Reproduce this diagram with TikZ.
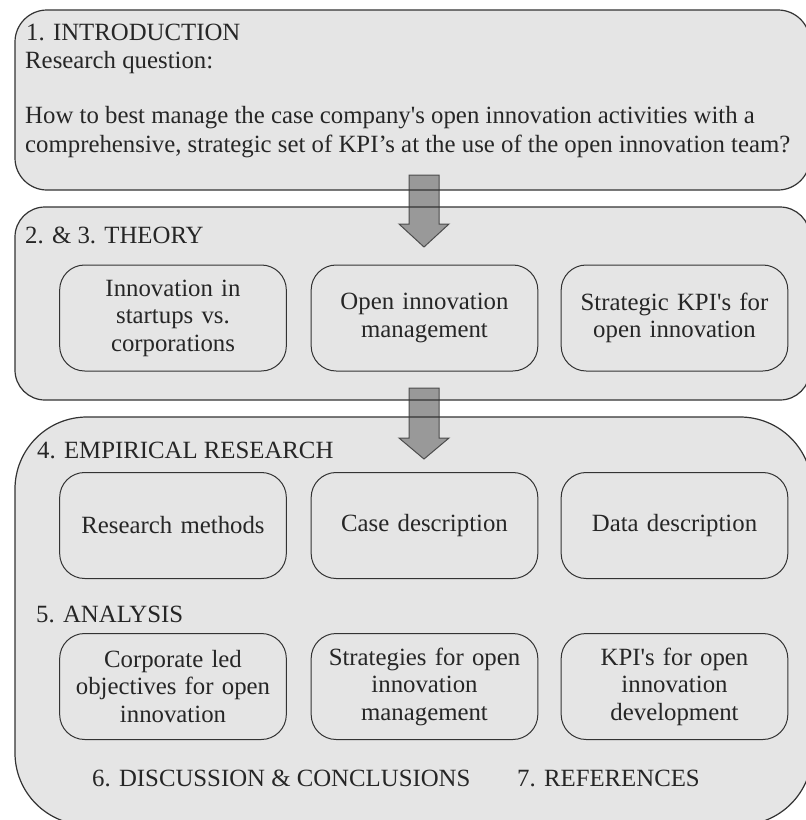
\documentclass[tikz,border=0pt]{standalone}
\usepackage{fontspec}
\setmainfont{Liberation Serif}
\usetikzlibrary{positioning}
\newcommand{\straightq}{\textquotesingle}

\tikzset{
  panel/.style={fill=gray!20},
  panelline/.style={draw=black!80, line width=1.2pt},
  topic/.style={draw=black!80, line width=1pt, rounded corners=25pt,
    minimum width=226pt, minimum height=106pt, align=center,
    text width=220pt, text=black!85, font=\fontsize{24.8}{27.5}\selectfont},
  heading/.style={anchor=base west, inner sep=0pt, text=black!85,
    font=\fontsize{24.8}{28}\selectfont},
  bigarrow/.style={fill=gray!80, draw=black!70, line width=1pt, line join=miter}
}

\begin{document}
\begin{tikzpicture}[x=1pt, y=-1pt]
\useasboundingbox (0,0) rectangle (806,820);
\clip (0,0) rectangle (806,820);
% panels
\path[panel, rounded corners=32pt] (15,10) rectangle (810,190);
\path[panel, rounded corners=30pt] (15,207) rectangle (810,400);
\path[panel, rounded corners=72pt] (15,417) rectangle (812,825);
% arrows between the panels
\draw[bigarrow] (409,175) -- (439,175) -- (439,224) -- (449,224) -- (424,247) -- (399,224) -- (409,224) -- cycle;
\draw[bigarrow] (409,388) -- (439,388) -- (439,438) -- (449,438) -- (424,459) -- (399,438) -- (409,438) -- cycle;
% panel outlines
\draw[panelline, rounded corners=32pt] (15,10) rectangle (810,190);
\draw[panelline, rounded corners=30pt] (15,207) rectangle (810,400);
\draw[panelline, rounded corners=72pt] (15,417) rectangle (812,825);

% introduction
\node[heading] (intro) at (26,40) {1. INTRODUCTION};
\node[heading] (question) at (25,68) {Research question:};
\node[heading] (qline1) at (25,123) {How to best manage the case company\straightq s open innovation activities with a};
\node[heading] (qline2) at (25,152) {comprehensive, strategic set of KPI’s at the use of the open innovation team?};

% theory
\node[heading] (theory) at (25,243) {2. \& 3. THEORY};
\node[topic] (startups) at (173,318) {Innovation in\\startups vs.\\corporations};
\node[topic] (oimanage) at (424.5,318) {Open innovation\\management};
\node[topic] (kpis) at (674.5,318) {Strategic KPI\straightq s for\\open innovation};

% empirical research
\node[heading] (empirical) at (37,458) {4. EMPIRICAL RESEARCH};
\node[topic] (methods) at (173,525.5) {Research methods};
\node[topic] (case) at (424.5,525.5) {Case description};
\node[topic] (data) at (674.5,525.5) {Data description};

% analysis
\node[heading] (analysis) at (36,622) {5. ANALYSIS};
\node[topic] (objectives) at (173,686.5) {Corporate led\\objectives for open\\innovation};
\node[topic] (strategies) at (424.5,686.5) {Strategies for open\\innovation\\management};
\node[topic] (kpidev) at (674.5,686.5) {KPI\straightq s for open\\innovation\\development};

% closing chapters
\node[heading] (discussion) at (92,786) {6. DISCUSSION \& CONCLUSIONS};
\node[heading] (references) at (517,786) {7. REFERENCES};
\end{tikzpicture}
\end{document}
